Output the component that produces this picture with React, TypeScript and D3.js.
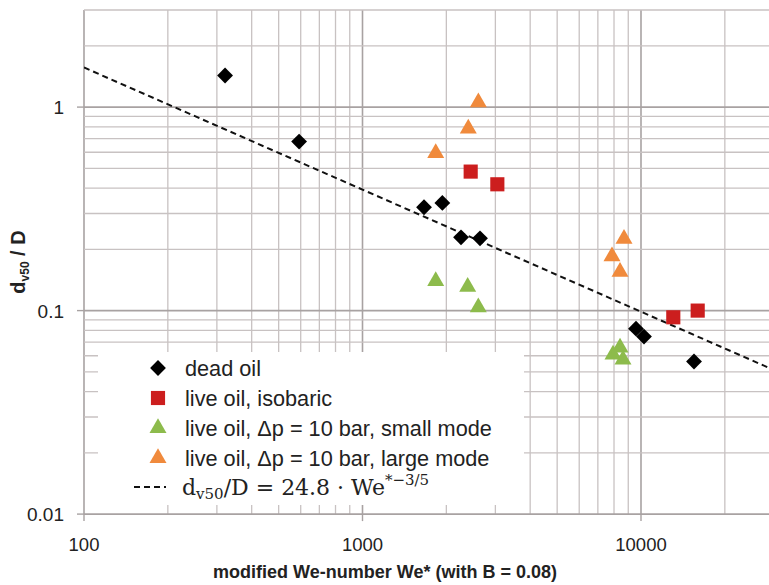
import React, { useEffect, useRef } from 'react';
import * as d3 from 'd3';

// values
const deadOilWe = [321, 592, 1663, 1935, 2258, 2642, 9594, 10250, 15500];
const deadOilD = [1.43, 0.677, 0.322, 0.338, 0.229, 0.2265, 0.0815, 0.0745, 0.0562];
const isobaricWe = [2446, 3049, 13060, 15980];
const isobaricD = [0.482, 0.4175, 0.0927, 0.1];
const smallModeWe = [1832, 2386, 2605, 7934, 8408, 8616];
const smallModeD = [0.1396, 0.1307, 0.1038, 0.0608, 0.0658, 0.0574];
const largeModeWe = [1832, 2398, 2606, 7868, 8408, 8690];
const largeModeD = [0.595, 0.784, 1.056, 0.185, 0.155, 0.225];

const fitCoef = 24.8;
const fitExp = -3 / 5;

const xTicks = [100, 1000, 10000];
const xTickLabels = ['100', '1000', '10000'];
const yTicks = [0.01, 0.1, 1];
const yTickLabels = ['0.01', '0.1', '1'];

const legendLabels = [
  'dead oil',
  'live oil, isobaric',
  'live oil, \u0394p = 10 bar, small mode',
  'live oil, \u0394p = 10 bar, large mode',
];

const App = () => {
  const svgRef = useRef<SVGSVGElement>(null);

  useEffect(() => {
    const width = 769;
    const height = 585;
    const left = 84;
    const top = 10;
    const dec = 278.5;
    const decY = 203.5;
    const xMax = 30000;
    const yMax = 3;
    const right = left + dec * Math.log10(xMax / 100);
    const bottom = top + decY * Math.log10(yMax / 0.01);

    const svg = d3.select(svgRef.current).attr('width', width).attr('height', height).html(null);

    const x = d3.scaleLog().domain([100, xMax]).range([left, right]);
    const y = d3.scaleLog().domain([0.01, yMax]).range([bottom, top]);

    svg.append('defs').append('clipPath').attr('id', 'plotclip')
      .append('rect').attr('x', left).attr('y', top).attr('width', right - left).attr('height', bottom - top);

    const grid = svg.append('g');
    const xGrid = x.ticks().filter((v) => v >= 100 && v <= xMax);
    const yGrid = y.ticks().filter((v) => v >= 0.01 && v <= yMax);
    const isMajor = (v: number) => Math.abs(Math.log10(v) - Math.round(Math.log10(v))) < 1e-6;

    grid.selectAll('.gx').data(xGrid).join('line')
      .attr('x1', (d) => x(d)).attr('x2', (d) => x(d))
      .attr('y1', top).attr('y2', bottom)
      .attr('stroke', (d) => (isMajor(d) ? '#a8a2a2' : '#c8c2c2'))
      .attr('stroke-width', (d) => (isMajor(d) ? 1.6 : 1.3));
    grid.selectAll('.gy').data(yGrid).join('line')
      .attr('x1', left).attr('x2', right)
      .attr('y1', (d) => y(d)).attr('y2', (d) => y(d))
      .attr('stroke', (d) => (isMajor(d) ? '#a8a2a2' : '#c8c2c2'))
      .attr('stroke-width', (d) => (isMajor(d) ? 1.6 : 1.3));

    // tick marks
    grid.selectAll('.tx').data(xTicks).join('line')
      .attr('x1', (d) => x(d)).attr('x2', (d) => x(d))
      .attr('y1', bottom).attr('y2', bottom + 7)
      .attr('stroke', '#a8a2a2').attr('stroke-width', 1.4);
    grid.selectAll('.ty').data(yTicks).join('line')
      .attr('x1', left - 7).attr('x2', left)
      .attr('y1', (d) => y(d)).attr('y2', (d) => y(d))
      .attr('stroke', '#a8a2a2').attr('stroke-width', 1.4);

    // legend box covers the grid
    svg.append('rect').attr('x', 98).attr('y', 352).attr('width', 426).attr('height', 153).attr('fill', '#fff');

    // fit line
    const fitX = [100, xMax];
    svg.append('path')
      .attr('clip-path', 'url(#plotclip)')
      .attr('d', d3.line<number>().x((d) => x(d)).y((d) => y(fitCoef * Math.pow(d, fitExp)))(fitX))
      .attr('fill', 'none').attr('stroke', '#111').attr('stroke-width', 2).attr('stroke-dasharray', '6,4');

    const series = [
      { xs: deadOilWe, ys: deadOilD, type: 'diamond', color: '#000' },
      { xs: isobaricWe, ys: isobaricD, type: 'square', color: '#cc1e1e' },
      { xs: smallModeWe, ys: smallModeD, type: 'triangle', color: '#8dbb4c' },
      { xs: largeModeWe, ys: largeModeD, type: 'triangle', color: '#f08a3c' },
    ];

    const symbolPath = (type: string) => {
      if (type === 'square') return d3.symbol(d3.symbolSquare, 200)()!;
      if (type === 'triangle') return d3.symbol(d3.symbolTriangle, 125)()!;
      return d3.symbol(d3.symbolSquare, 125)()!;
    };
    const rot = (type: string) => (type === 'diamond' ? ' rotate(45)' : '');

    series.forEach((s) => {
      svg.append('g').selectAll('path').data(s.xs).join('path')
        .attr('d', symbolPath(s.type))
        .attr('transform', (d, i) => `translate(${x(d)},${y(s.ys[i])})${rot(s.type)}`)
        .attr('fill', s.color);
    });

    // axis labels
    const labelFont = 'Liberation Sans, Arial, sans-serif';
    svg.append('g').selectAll('text').data(xTicks).join('text')
      .attr('x', (d) => x(d)).attr('y', 551)
      .attr('text-anchor', 'middle').attr('font-family', labelFont).attr('font-size', 18.5).attr('fill', '#222')
      .text((d, i) => xTickLabels[i]);
    svg.append('g').selectAll('text').data(yTicks).join('text')
      .attr('x', 64).attr('y', (d) => y(d) + 7)
      .attr('text-anchor', 'end').attr('font-family', labelFont).attr('font-size', 19).attr('fill', '#222')
      .text((d, i) => yTickLabels[i]);

    svg.append('text')
      .attr('x', 385).attr('y', 578)
      .attr('text-anchor', 'middle').attr('font-family', labelFont).attr('font-size', 18)
      .attr('font-weight', 'bold').attr('fill', '#222')
      .text('modified We-number We* (with B = 0.08)');

    const yt = svg.append('text')
      .attr('transform', 'translate(25,262) rotate(-90)')
      .attr('text-anchor', 'middle').attr('font-family', labelFont).attr('font-size', 20)
      .attr('font-weight', 'bold').attr('fill', '#222');
    yt.append('tspan').text('d');
    yt.append('tspan').attr('font-size', 12).attr('dy', 4).text('v50');
    yt.append('tspan').attr('dy', -4).text(' / D');

    // legend
    const lg = svg.append('g');
    const rowY = [368, 398, 428, 458, 487];
    series.forEach((s, i) => {
      lg.append('path')
        .attr('d', symbolPath(s.type))
        .attr('transform', `translate(158,${rowY[i]})${rot(s.type)}`)
        .attr('fill', s.color);
      lg.append('text')
        .attr('x', 185).attr('y', rowY[i] + 7.5)
        .attr('font-family', labelFont).attr('font-size', 21.7).attr('fill', '#222')
        .text(legendLabels[i]);
    });
    lg.append('line')
      .attr('x1', 134).attr('x2', 166).attr('y1', rowY[4]).attr('y2', rowY[4])
      .attr('stroke', '#111').attr('stroke-width', 2).attr('stroke-dasharray', '6,4');
    const ft = lg.append('text')
      .attr('x', 182).attr('y', rowY[4] + 8)
      .attr('font-family', 'DejaVu Serif, serif').attr('font-size', 22).attr('fill', '#222');
    ft.append('tspan').text('d');
    ft.append('tspan').attr('font-size', 15).attr('dy', 4).text('v50');
    ft.append('tspan').attr('dy', -4).text('/D = 24.8 \u00b7 We');
    ft.append('tspan').attr('font-size', 15).attr('dy', -10).text('*\u22123/5');
  }, []);

  return <svg ref={svgRef} style={{ position: 'absolute', left: 0, top: 0, display: 'block' }} />;
};

export default App;
